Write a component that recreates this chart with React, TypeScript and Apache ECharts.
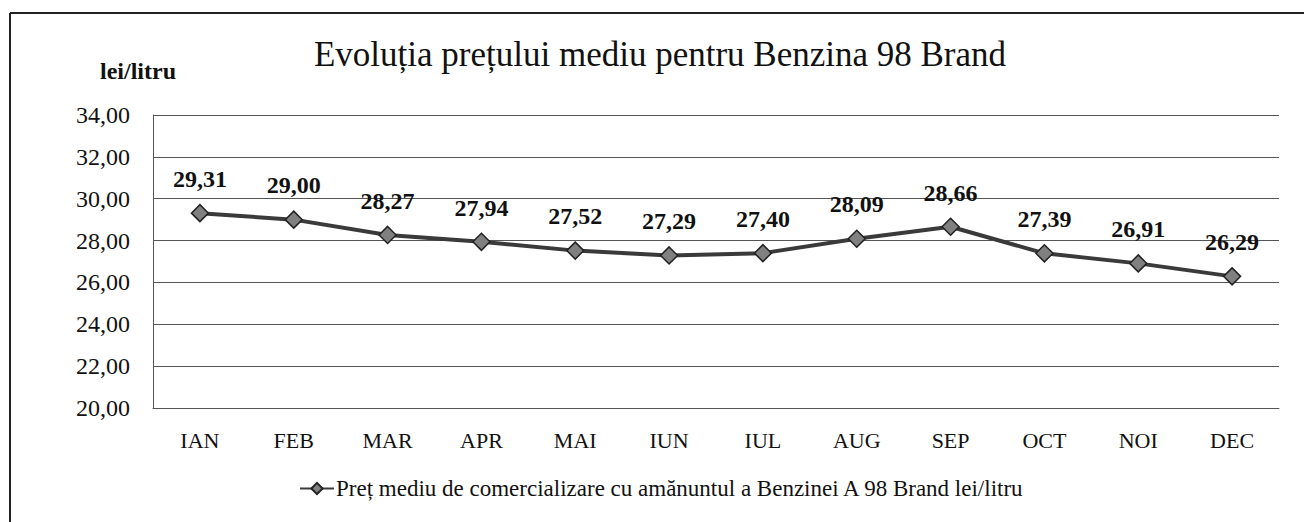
import React, { useEffect, useRef } from "react";
import * as echarts from "echarts";

const months = ["IAN", "FEB", "MAR", "APR", "MAI", "IUN", "IUL", "AUG", "SEP", "OCT", "NOI", "DEC"];
const prices = [29.31, 29.0, 28.27, 27.94, 27.52, 27.29, 27.4, 28.09, 28.66, 27.39, 26.91, 26.29];
const seriesName = "Preț mediu de comercializare cu amănuntul a Benzinei A 98 Brand lei/litru";
const titleText = "Evoluția prețului mediu pentru Benzina 98 Brand";
const unitText = "lei/litru";

const FONT = "Liberation Serif, Times New Roman, serif";
const fmt = (v: number) => v.toFixed(2).replace(".", ",");

export default function App() {
  const ref = useRef<HTMLDivElement>(null);
  useEffect(() => {
    if (!ref.current) return;
    const chart = echarts.init(ref.current, undefined, { renderer: "svg" });
    chart.setOption({
      animation: false,
      backgroundColor: "#fff",
      title: {
        text: titleText,
        left: "center",
        top: 24,
        textStyle: { fontFamily: FONT, fontSize: 35, fontWeight: "normal", color: "#111" },
      },
      legend: {
        bottom: 17,
        left: 286,
        itemWidth: 34,
        itemHeight: 14,
        itemGap: 4,
        textStyle: { fontFamily: FONT, fontSize: 23, color: "#111", padding: [0, 0, 0, -3] },
        data: [seriesName],
      },
      graphic: [
        {
          type: "line",
          shape: { x1: 2, y1: 5, x2: 1304, y2: 5 },
          style: { stroke: "#222", lineWidth: 2 },
        },
        {
          type: "line",
          shape: { x1: 2, y1: 5, x2: 2, y2: 514 },
          style: { stroke: "#222", lineWidth: 2 },
        },
        {
          type: "text",
          left: 92,
          top: 51,
          style: { text: unitText, font: `bold 24px ${FONT}`, fill: "#111" },
        },
      ],
      grid: { left: 145, right: 33, top: 107, bottom: 114 },
      xAxis: {
        type: "category",
        data: months,
        boundaryGap: true,
        axisLine: { show: true, lineStyle: { color: "#555", width: 1 } },
        axisTick: { show: false },
        axisLabel: { fontFamily: FONT, fontSize: 22, color: "#111", margin: 21 },
      },
      yAxis: {
        type: "value",
        min: 20,
        max: 34,
        interval: 2,
        axisLine: { show: true, lineStyle: { color: "#555", width: 1 } },
        axisTick: { show: false },
        splitLine: { lineStyle: { color: "#555", width: 1 } },
        axisLabel: {
          fontFamily: FONT,
          fontSize: 24,
          color: "#111",
          margin: 23,
          formatter: (v: number) => fmt(v),
        },
      },
      series: [
        {
          name: seriesName,
          type: "line",
          data: prices,
          symbol: "diamond",
          symbolSize: 17,
          lineStyle: { color: "#3a3a3a", width: 4 },
          itemStyle: { color: "#808080", borderColor: "#222", borderWidth: 1.5 },
          label: {
            show: true,
            position: "top",
            distance: 13,
            fontFamily: FONT,
            fontSize: 24,
            fontWeight: "bold",
            color: "#111",
            formatter: (p: any) => fmt(p.value),
          },
        },
      ],
    });
    return () => chart.dispose();
  }, []);
  return <div ref={ref} style={{ width: 1304, height: 514 }} />;
}
